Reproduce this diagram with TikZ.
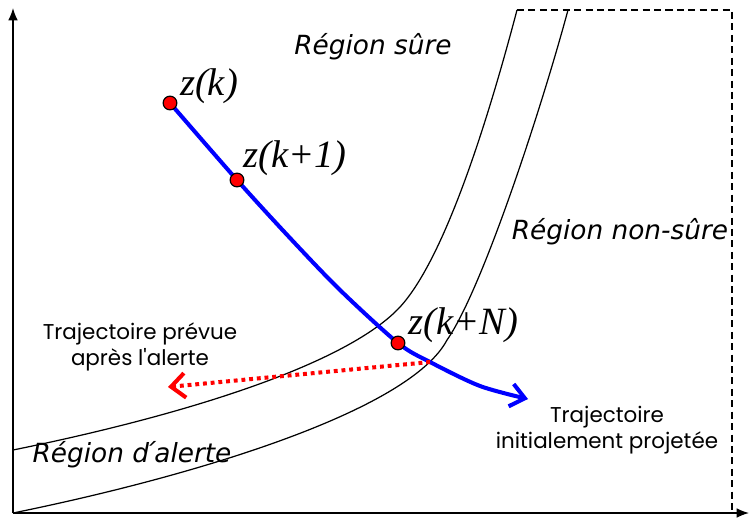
\documentclass[tikz,border=0pt]{standalone}
\usepackage{fontspec}
\setmainfont{Liberation Serif}
\newfontfamily\regionfont{DejaVu Sans}
\newfontfamily\notefont{Poppins}
\usetikzlibrary{arrows.meta}

\begin{document}
\begin{tikzpicture}[
    x=0.02cm, y=-0.02cm,
    axis/.style={black, line width=0.8pt, -{Latex[length=7pt,width=5.5pt]}},
    border/.style={black, line width=0.7pt},
    limit/.style={black, line width=0.7pt, dash pattern=on 4pt off 2.5pt},
    traj/.style={blue, line width=2.3pt,
      -{Straight Barb[length=8pt,width=13pt,line width=2.3pt]}},
    alert/.style={red, line width=2.3pt, dash pattern=on 2.2pt off 2.2pt,
      -{Straight Barb[length=8pt,width=14pt,line width=2.3pt]}},
    state/.style={circle, fill=red, draw=black, line width=0.7pt,
      inner sep=0pt, minimum size=7.8pt},
    zlbl/.style={font=\fontsize{22}{24}\selectfont\itshape, inner sep=0pt},
    region/.style={font=\regionfont\itshape\fontsize{15}{17}\selectfont, inner sep=0pt},
    note/.style={font=\notefont\fontsize{12.2}{14.7}\selectfont, align=center, inner sep=0pt},
  ]
\useasboundingbox (0,0) rectangle (750,521);

% axes and the dashed limit of the domain
\coordinate (origin) at (13,513);
\coordinate (ytop) at (13,8);
\coordinate (xend) at (749,513);
\draw[axis] (origin) -- (ytop);
\draw[axis] (origin) -- (xend);
\coordinate (limtl) at (517,10);
\coordinate (limtr) at (732,10);
\coordinate (limbr) at (732,513);
\draw[limit] (limtl) -- (limtr) -- (limbr);

% borders of the alert region
\coordinate (upstart) at (13,450);
\coordinate (upbend) at (400,307);
\coordinate (lowbend) at (447,340);
\draw[border] (upstart) .. controls (200,412) and (350,361) .. (upbend)
  .. controls (445,258) and (488,120) .. (limtl);
\draw[border] (origin) .. controls (200,475) and (410,410) .. (lowbend)
  .. controls (482,290) and (541,110) .. (568,10);

% predicted states
\coordinate (pk) at (170,103);
\coordinate (pk1) at (237,180);
\coordinate (pkN) at (398,343);
\coordinate (hit) at (430,362);
\coordinate (projend) at (528,399);
\coordinate (alertend) at (168,387);

\draw[traj] plot[smooth, tension=0.5] coordinates {(pk) (pk1) (290,238)
  (340,290) (pkN) (hit) (480,386) (projend)};
\draw[alert] (hit) -- (alertend);

\node[state] (zk) at (pk) {};
\node[state] (zk1) at (pk1) {};
\node[state] (zkN) at (pkN) {};

\node[zlbl] (lzk) at (209,86) {z(k)};
\node[zlbl] (lzk1) at (295,158) {z(k+1)};
\node[zlbl] (lzkN) at (463,325) {z(k+N)};

% regions and notes
\node[region] (safe) at (373,47) {Région sûre};
\node[region] (unsafe) at (620,232) {Région non-sûre};
\node[region] (warn) at (132,455) {Région d\kern-0.25em´\kern-0.05em alerte};
\node[note] (after) at (140,347) {Trajectoire prévue\\après l'alerte};
\node[note] (initial) at (607,430) {Trajectoire\\initialement projetée};

\end{tikzpicture}
\end{document}
